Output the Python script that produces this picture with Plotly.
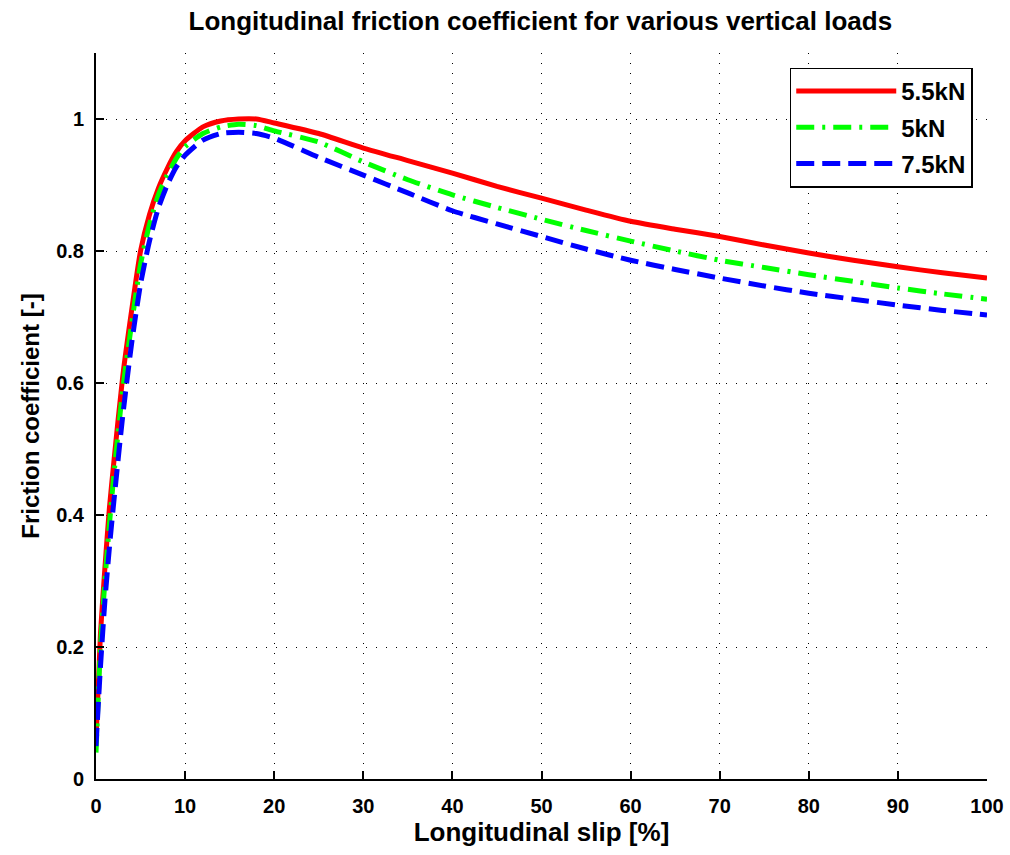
import plotly.graph_objects as go

x_pts = [0, 0.5, 1, 1.5, 2, 3, 4, 5, 6, 7, 8, 9, 10, 12, 14, 16, 18, 20, 25, 30, 35, 40, 45, 50,
         55, 60, 65, 70, 75, 80, 85, 90, 95, 100]

mu_55kN = [0.06, 0.22, 0.32, 0.41, 0.48, 0.61, 0.71, 0.80, 0.855, 0.895, 0.925, 0.95, 0.967,
           0.988, 0.997, 1.0, 1.0, 0.994, 0.978, 0.956, 0.937, 0.918, 0.898, 0.880,
           0.862, 0.845, 0.833, 0.822, 0.809, 0.797, 0.786, 0.776, 0.767, 0.759]

mu_5kN = [0.04, 0.20, 0.30, 0.385, 0.46, 0.59, 0.69, 0.78, 0.84, 0.885, 0.915, 0.94, 0.958,
          0.978, 0.988, 0.992, 0.99, 0.982, 0.965, 0.935, 0.908, 0.885, 0.866, 0.848,
          0.831, 0.815, 0.80, 0.786, 0.775, 0.764, 0.754, 0.744, 0.735, 0.727]

mu_75kN = [0.05, 0.17, 0.27, 0.35, 0.42, 0.55, 0.66, 0.75, 0.815, 0.865, 0.90, 0.927, 0.945,
           0.968, 0.978, 0.98, 0.978, 0.971, 0.942, 0.915, 0.888, 0.861, 0.841, 0.822,
           0.803, 0.786, 0.772, 0.759, 0.747, 0.736, 0.727, 0.718, 0.71, 0.703]

series_names = ["5.5kN", "5kN", "7.5kN"]
series_values = [mu_55kN, mu_5kN, mu_75kN]
series_colors = ["#ff0000", "#00ff00", "#0000ff"]
series_dash = ["solid", "18px,8px,3px,8px", "18px,8px"]

x_ticks = [0, 10, 20, 30, 40, 50, 60, 70, 80, 90, 100]
y_ticks = [0, 0.2, 0.4, 0.6, 0.8, 1]
y_ticklabels = ["0", "0.2", "0.4", "0.6", "0.8", "1"]

FONT = "Liberation Sans, Arial, sans-serif"

fig = go.Figure()
for i, (name, vals, col, dash) in enumerate(zip(series_names, series_values, series_colors, series_dash)):
    fig.add_trace(go.Scatter(x=x_pts, y=vals, mode="lines", name=name, legendgroup=f"g{i}",
                             line=dict(color=col, width=5, dash=dash, shape="spline", smoothing=0.6)))

axis_common = dict(showline=True, linecolor="black", linewidth=2, mirror=False,
                   ticks="inside", ticklen=8, tickwidth=1.5, tickcolor="black",
                   showgrid=True, gridcolor="black", gridwidth=1, griddash="1px,9px",
                   zeroline=False, automargin=False,
                   tickfont=dict(family=FONT, size=20, color="black", weight="bold"))

fig.update_xaxes(range=[0, 100], tickvals=x_ticks, ticklabelstandoff=8, **axis_common,
                 title=dict(text="Longitudinal slip [%]", standoff=6,
                            font=dict(family=FONT, size=26, color="black", weight="bold")))
fig.update_yaxes(range=[0, 1.1], tickvals=y_ticks, ticktext=y_ticklabels, ticklabelstandoff=6,
                 **axis_common,
                 title=dict(text="Friction coefficient [-]", standoff=10,
                            font=dict(family=FONT, size=24, color="black", weight="bold")))

fig.update_layout(
    width=1010, height=855,
    margin=dict(l=96, r=23, t=53, b=76),
    paper_bgcolor="white", plot_bgcolor="white",
    font=dict(family=FONT, color="black"),
    title=dict(text="Longitudinal friction coefficient for various vertical loads",
               x=0.535, xanchor="center", y=0.975, yanchor="middle",
               font=dict(family=FONT, size=26, color="black", weight="bold")),
    legend=dict(x=0.984, y=0.98, xanchor="right", yanchor="top",
                bgcolor="white", bordercolor="black", borderwidth=1.5,
                font=dict(family=FONT, size=24, color="black", weight="bold"),
                itemwidth=100, tracegroupgap=2),
    showlegend=True,
)

fig.write_html("out.html", config={"displayModeBar": False},
               post_script="document.body.style.margin='0px';")
